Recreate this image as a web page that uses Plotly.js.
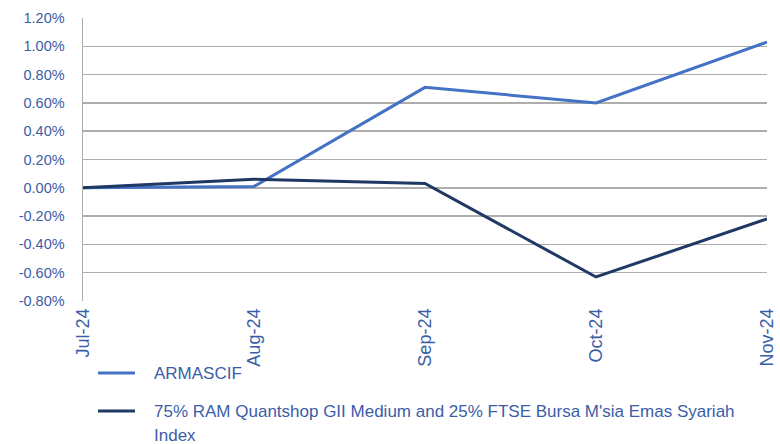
<!DOCTYPE html>
<html>
<head>
<meta charset="utf-8">
<script src="https://cdn.plot.ly/plotly-3.0.1.min.js"></script>
<style>html,body{margin:0;padding:0;background:#fff;}#chart{width:780px;height:444px;}</style>
</head>
<body>
<div id="chart"></div>
<script>
const months = ['Jul-24', 'Aug-24', 'Sep-24', 'Oct-24', 'Nov-24'];
const armascif = [0.00, 0.01, 0.71, 0.60, 1.03];
const benchmark = [0.00, 0.06, 0.03, -0.63, -0.22];
const seriesNames = ['ARMASCIF', '75% RAM Quantshop GII Medium and 25% FTSE Bursa M\'sia Emas Syariah<br>Index'];
const seriesColors = ['#4472C4', '#1F3864'];
const yTickVals = [-0.8, -0.6, -0.4, -0.2, 0, 0.2, 0.4, 0.6, 0.8, 1.0, 1.2];
const yTickLabels = ['-0.80%', '-0.60%', '-0.40%', '-0.20%', '0.00%', '0.20%', '0.40%', '0.60%', '0.80%', '1.00%', '1.20%'];

const textBlue = '#3B5DA8';
const W = 780, H = 444, M = {l: 83, r: 13, t: 18, b: 143};
const pw = W - M.l - M.r, ph = H - M.t - M.b;
const px2x = p => (p - M.l) / pw;
const px2y = p => (H - M.b - p) / ph;

const traces = [
  {x: months, y: armascif, name: seriesNames[0], type: 'scatter', mode: 'lines',
   line: {color: seriesColors[0], width: 3}},
  {x: months, y: benchmark, name: seriesNames[1], type: 'scatter', mode: 'lines',
   line: {color: seriesColors[1], width: 3}}
];

// Manual legend (keeps the plot area fixed)
const legendRows = [373, 411];
const lineGap = 24;
const shapes = [], annotations = [];
seriesNames.forEach((name, i) => {
  const yRow = legendRows[i];
  shapes.push({type: 'line', xref: 'paper', yref: 'paper', x0: px2x(98), x1: px2x(135),
               y0: px2y(yRow), y1: px2y(yRow), line: {color: seriesColors[i], width: 3}});
  name.split('<br>').forEach((ln, k) => {
    annotations.push({xref: 'paper', yref: 'paper', x: px2x(152), y: px2y(yRow + k * lineGap),
                      xanchor: 'left', yanchor: 'middle', showarrow: false, text: ln,
                      font: {size: 17, color: textBlue}});
  });
});

const layout = {
  width: W, height: H,
  margin: M,
  paper_bgcolor: '#fff', plot_bgcolor: '#fff',
  font: {family: 'Liberation Sans, Arial, sans-serif', color: textBlue},
  showlegend: false,
  xaxis: {type: 'category', range: [0, 4], tickangle: -90, showgrid: false, zeroline: false,
          showline: false, ticks: '', automargin: false, ticklabelstandoff: 3,
          tickfont: {size: 18, color: textBlue}},
  yaxis: {range: [-0.8, 1.2], tickvals: yTickVals, ticktext: yTickLabels, showgrid: true,
          gridcolor: '#ADADAD', gridwidth: 1.5, zeroline: false, showline: true, linecolor: '#ADADAD',
          linewidth: 1.5, ticks: '', automargin: false, ticklabelstandoff: 14,
          tickfont: {size: 14.5, color: textBlue}},
  shapes: shapes,
  annotations: annotations
};
Plotly.newPlot('chart', traces, layout, {displayModeBar: false, staticPlot: true});
</script>
</body>
</html>
